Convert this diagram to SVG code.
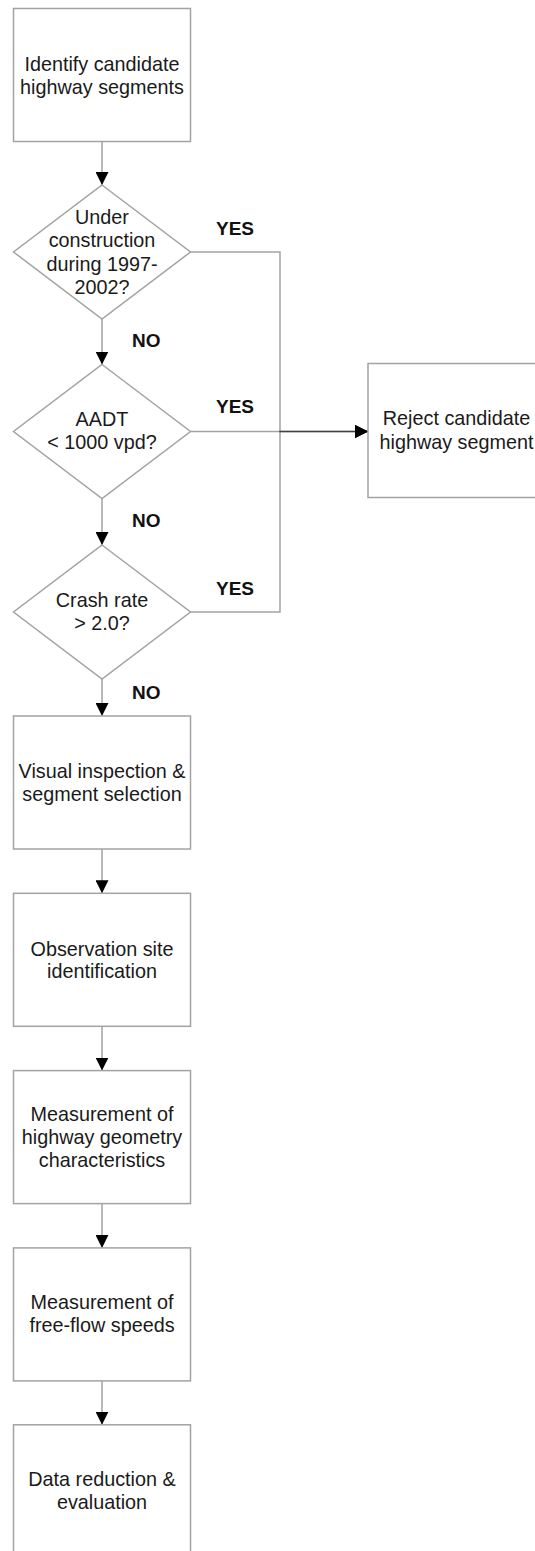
<svg xmlns="http://www.w3.org/2000/svg" width="535" height="1551" viewBox="0 0 535 1551">
<defs>
<style>
.box{fill:#fff;stroke:#a3a3a3;stroke-width:1.5}
.t{font-family:"Liberation Sans",Arial,sans-serif;font-size:19.8px;fill:#1a1a1a;text-anchor:middle}
.lbl{font-family:"Liberation Sans",Arial,sans-serif;font-size:19px;font-weight:bold;fill:#111}
.c{fill:none;stroke:#000;stroke-opacity:0.36;stroke-width:1.5}
</style>
<marker id="ah" markerUnits="userSpaceOnUse" viewBox="0 0 13 13" refX="13" refY="6.5" markerWidth="13" markerHeight="13" orient="auto">
<path d="M0,0 L13,6.5 L0,13 z" fill="#000"/>
</marker>
</defs>
<rect width="535" height="1551" fill="#fff"/>
<g id="connectors">
<path class="c" d="M102,141.5 V185" marker-end="url(#ah)"/>
<path class="c" d="M102,319 V364.5" marker-end="url(#ah)"/>
<path class="c" d="M102,498.5 V545" marker-end="url(#ah)"/>
<path class="c" d="M102,679 V716" marker-end="url(#ah)"/>
<path class="c" d="M102,849 V893.3" marker-end="url(#ah)"/>
<path class="c" d="M102,1026.3 V1070.6" marker-end="url(#ah)"/>
<path class="c" d="M102,1203.6 V1247.9" marker-end="url(#ah)"/>
<path class="c" d="M102,1380.9 V1424.8" marker-end="url(#ah)"/>
<path class="c" d="M190.5,252 H280 V431.5 H368" marker-end="url(#ah)"/>
<path class="c" d="M190.5,431.5 H368" marker-end="url(#ah)"/>
<path class="c" d="M190.5,612 H280 V431.5 H368" marker-end="url(#ah)"/>
<text class="lbl" x="216" y="235">YES</text>
<text class="lbl" x="216" y="413">YES</text>
<text class="lbl" x="216" y="595">YES</text>
<text class="lbl" x="132" y="346.5">NO</text>
<text class="lbl" x="132" y="527">NO</text>
<text class="lbl" x="132" y="698.5">NO</text>
</g>
<g id="n1">
<rect class="box" x="13.5" y="8.5" width="177" height="133"/>
<text class="t" x="102" y="71">Identify candidate</text>
<text class="t" x="102" y="94">highway segments</text>
</g>
<g id="d1">
<path class="box" d="M102,185 L190.5,252 L102,319 L13.5,252 z"/>
<text class="t" x="102" y="223.5">Under</text>
<text class="t" x="102" y="247">construction</text>
<text class="t" x="102" y="270.5">during 1997-</text>
<text class="t" x="102" y="294">2002?</text>
</g>
<g id="d2">
<path class="box" d="M102,364.5 L190.5,431.5 L102,498.5 L13.5,431.5 z"/>
<text class="t" x="102" y="426">AADT</text>
<text class="t" x="102" y="449">&lt; 1000 vpd?</text>
</g>
<g id="d3">
<path class="box" d="M102,545 L190.5,612 L102,679 L13.5,612 z"/>
<text class="t" x="102" y="606.5">Crash rate</text>
<text class="t" x="102" y="630">&gt; 2.0?</text>
</g>
<g id="reject">
<rect class="box" x="368" y="363.5" width="177" height="134"/>
<text class="t" x="456.5" y="425">Reject candidate</text>
<text class="t" x="456.5" y="448.5">highway segment</text>
</g>
<g id="n2">
<rect class="box" x="13.5" y="716" width="177" height="133"/>
<text class="t" x="102" y="778">Visual inspection &amp;</text>
<text class="t" x="102" y="801">segment selection</text>
</g>
<g id="n3">
<rect class="box" x="13.5" y="893.3" width="177" height="133"/>
<text class="t" x="102" y="955.5">Observation site</text>
<text class="t" x="102" y="978">identification</text>
</g>
<g id="n4">
<rect class="box" x="13.5" y="1070.6" width="177" height="133"/>
<text class="t" x="102" y="1120.5">Measurement of</text>
<text class="t" x="102" y="1143.5">highway geometry</text>
<text class="t" x="102" y="1166.5">characteristics</text>
</g>
<g id="n5">
<rect class="box" x="13.5" y="1247.9" width="177" height="133"/>
<text class="t" x="102" y="1309">Measurement of</text>
<text class="t" x="102" y="1332">free-flow speeds</text>
</g>
<g id="n6">
<rect class="box" x="13.5" y="1424.8" width="177" height="133"/>
<text class="t" x="102" y="1486">Data reduction &amp;</text>
<text class="t" x="102" y="1509">evaluation</text>
</g>
</svg>
